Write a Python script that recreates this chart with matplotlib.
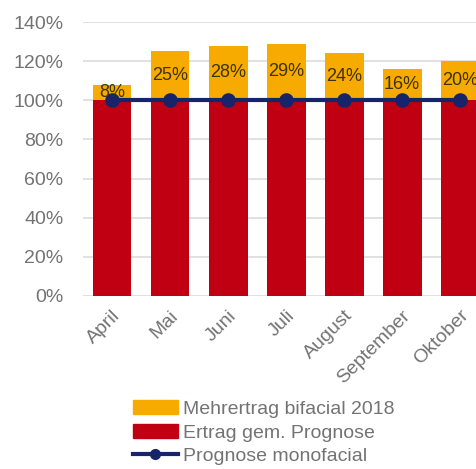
import matplotlib.pyplot as plt
from matplotlib.patches import Patch
from matplotlib.lines import Line2D

# Monthly yields relative to the monofacial forecast (%)
months = ['April', 'Mai', 'Juni', 'Juli', 'August', 'September', 'Oktober']
base_yield = [100, 100, 100, 100, 100, 100, 100]
extra_bifacial = [8, 25, 28, 29, 24, 16, 20]
forecast_mono = [100, 100, 100, 100, 100, 100, 100]

yellow = '#F7AA00'
red = '#C00012'
navy = '#16256A'
grey_text = '#737373'

plt.rcParams['font.family'] = ['Liberation Sans', 'DejaVu Sans']

fig = plt.figure(figsize=(4.77, 4.69), dpi=100)
ax = fig.add_axes([0.174, 0.369, 0.826, 0.584])

x = list(range(len(months)))
ax.bar(x, base_yield, width=0.67, color=red, zorder=2)
ax.bar(x, extra_bifacial, width=0.67, bottom=base_yield, color=yellow, zorder=2)
ax.plot(x, forecast_mono, color=navy, lw=3, marker='o', ms=9.5, zorder=3)

# percentage labels in the middle of the yellow segment
for xi, b, v in zip(x, base_yield, extra_bifacial):
    ax.text(xi, b + v / 2, f'{v}%', ha='center', va='center',
            fontsize=13, color='#3d3300', zorder=4)

ax.set_xlim(-0.5, 6.29)
ax.set_ylim(0, 140)
ax.set_yticks(range(0, 141, 20))
ax.set_yticklabels([f'{t}%' for t in range(0, 141, 20)])
ax.set_xticks(x)
ax.set_xticklabels(months, rotation=45, ha='right', va='top',
                   rotation_mode='anchor')
ax.tick_params(length=0, labelsize=14, labelcolor=grey_text)
ax.tick_params(axis='y', pad=14)
ax.tick_params(axis='x', pad=8)
ax.grid(axis='y', color='#dcdcdc', lw=1.2, zorder=0)
ax.set_axisbelow(True)
for s in ax.spines.values():
    s.set_visible(False)

handles = [
    Patch(color=yellow, label='Mehrertrag bifacial 2018'),
    Patch(color=red, label='Ertrag gem. Prognose'),
    Line2D([], [], color=navy, lw=3, marker='o', ms=7,
           label='Prognose monofacial'),
]
leg = fig.legend(handles=handles, loc='upper left', bbox_to_anchor=(0.279, 0.147),
                 frameon=False, fontsize=14, handlelength=2.3,
                 handleheight=0.75, handletextpad=0.25, labelspacing=0.3,
                 borderpad=0, borderaxespad=0)
for t in leg.get_texts():
    t.set_color(grey_text)

fig.savefig('out.png', dpi=100)
